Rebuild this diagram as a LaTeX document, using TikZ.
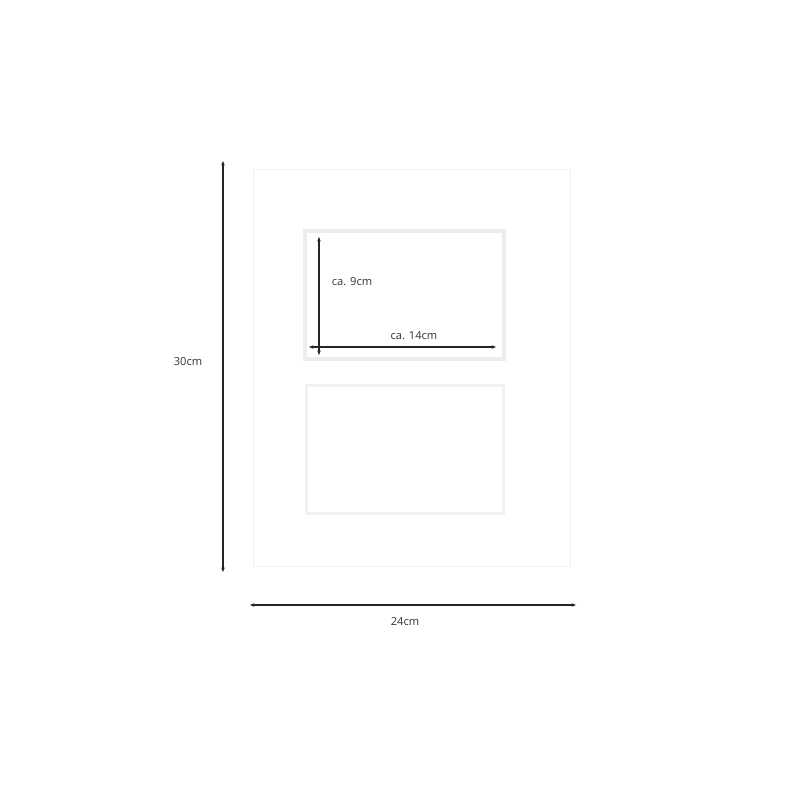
\documentclass[tikz,border=0pt]{standalone}
\usepackage{fontspec}
\setmainfont{Open Sans}
\usetikzlibrary{positioning,arrows.meta}

\begin{document}
\begin{tikzpicture}[x=0.3mm,y=-0.3mm,
    matframe/.style={draw=black!6, line width=0.3mm},
    window/.style={draw=black!7, line width=1.1mm},
    dimline/.style={{Latex[length=1.6mm,width=1.1mm]}-{Latex[length=1.6mm,width=1.1mm]}, line width=0.35mm, black!85},
    dimlabel/.style={font=\fontsize{9.5}{11}\selectfont, text=black!80, inner sep=1pt}]

        \useasboundingbox (0,0) rectangle (800,800);

        % mat and windows
        \draw[matframe] (253,169) rectangle (570,566);
        \draw[window] (305,231) rectangle (504,359);
        \draw[window, draw=black!5, line width=0.9mm] (306,385) rectangle (503,513);

        % outer dimensions
        \coordinate (htop) at (223,160);
        \coordinate (hbot) at (223,573);
        \coordinate (wleft) at (249,605);
        \coordinate (wright) at (577,605);
        \draw[dimline] (htop) -- (hbot);
        \draw[dimline] (wleft) -- (wright);
        \node[dimlabel] (height) at (188,362) {30cm};
        \node[dimlabel] (width) at (405,622) {24cm};

        % window dimensions
        \coordinate (vtop) at (319,236);
        \coordinate (vbot) at (319,356);
        \coordinate (hleft) at (308,347);
        \coordinate (hright) at (497,347);
        \draw[dimline, line width=0.45mm] (vtop) -- (vbot);
        \draw[dimline, line width=0.45mm] (hleft) -- (hright);
        \node[dimlabel] (winheight) at (352,282) {ca. 9cm};
        \node[dimlabel] (winwidth) at (414,336) {ca. 14cm};

\end{tikzpicture}
\end{document}
